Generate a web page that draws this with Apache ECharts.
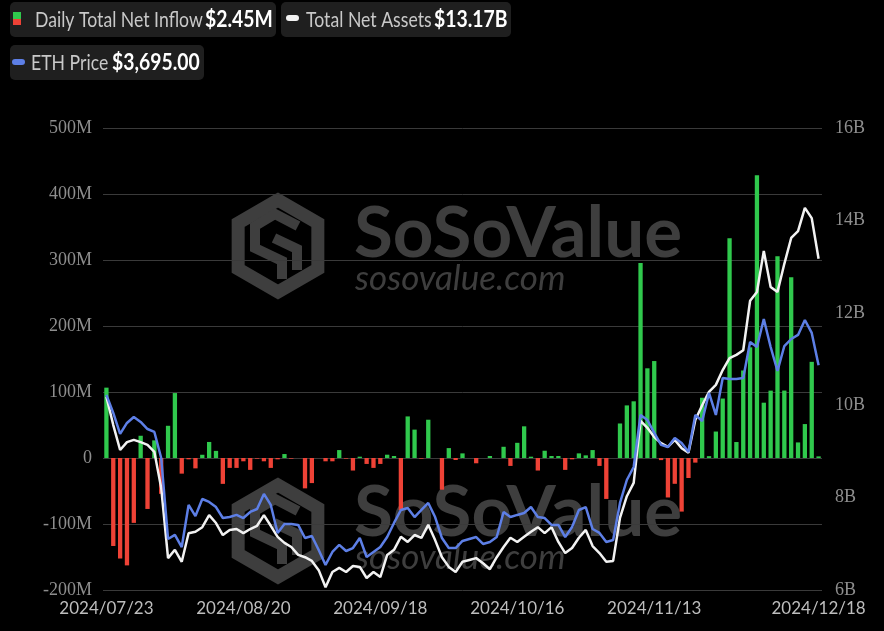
<!DOCTYPE html>
<html>
<head>
<meta charset="utf-8">
<script src="https://cdn.jsdelivr.net/npm/echarts@6/dist/echarts.min.js"></script>
<style>
html,body{margin:0;padding:0;background:#000;}
#chart{width:884px;height:631px;}
</style>
</head>
<body>
<div id="chart"></div>
<script>
// Trading-day categories
const dates = [
'2024/07/23','2024/07/24','2024/07/25','2024/07/26','2024/07/29','2024/07/30','2024/07/31',
'2024/08/01','2024/08/02','2024/08/05','2024/08/06','2024/08/07','2024/08/08','2024/08/09','2024/08/12','2024/08/13','2024/08/14','2024/08/15','2024/08/16','2024/08/19','2024/08/20','2024/08/21','2024/08/22','2024/08/23','2024/08/26','2024/08/27','2024/08/28','2024/08/29','2024/08/30',
'2024/09/03','2024/09/04','2024/09/05','2024/09/06','2024/09/09','2024/09/10','2024/09/11','2024/09/12','2024/09/13','2024/09/16','2024/09/17','2024/09/18','2024/09/19','2024/09/20','2024/09/23','2024/09/24','2024/09/25','2024/09/26','2024/09/27','2024/09/30',
'2024/10/01','2024/10/02','2024/10/03','2024/10/04','2024/10/07','2024/10/08','2024/10/09','2024/10/10','2024/10/11','2024/10/14','2024/10/15','2024/10/16','2024/10/17','2024/10/18','2024/10/21','2024/10/22','2024/10/23','2024/10/24','2024/10/25','2024/10/28','2024/10/29','2024/10/30','2024/10/31',
'2024/11/01','2024/11/04','2024/11/05','2024/11/06','2024/11/07','2024/11/08','2024/11/11','2024/11/12','2024/11/13','2024/11/14','2024/11/15','2024/11/18','2024/11/19','2024/11/20','2024/11/21','2024/11/22','2024/11/25','2024/11/26','2024/11/27','2024/11/29',
'2024/12/02','2024/12/03','2024/12/04','2024/12/05','2024/12/06','2024/12/09','2024/12/10','2024/12/11','2024/12/12','2024/12/13','2024/12/16','2024/12/17','2024/12/18'
];
// Daily total net inflow (million USD)
const netInflow = [
106.6,-133.3,-152.3,-162.7,-98.3,33.7,-77.2,26.7,-54.3,48.8,
98.4,-23.7,-2.0,-15.7,4.9,24.3,10.8,-39.2,-15,-15,
-5,-18,-1,-5,-15,-2,6,-1,0,-46,
-38,0,-5,-5,12,-1,-19,2,-9,-15,
-9,5,3,-79,63,43,-1,58,0,-48,
15,-3,7,0,-8,0,3,0,17,-12,
23,48,2,-19,11,3,3,-18,-2,7,
4,12,-12,-62,0,52.3,79.7,85.9,295.5,135.9,
146.9,-3.2,-59.8,-39.1,-81.2,-30.3,-7,91.3,2.8,40.1,
90.1,332.9,24.2,132.6,167.7,428.4,83.8,102.1,305.7,102.2,
273.7,23.6,51.4,145.7,2.45
];
// Total net assets (billion USD)
const totalNetAssets = [
10.18,9.57,9.03,9.20,9.25,9.20,9.14,8.99,8.21,6.69,
6.87,6.61,7.23,7.26,7.36,7.62,7.45,7.19,7.30,7.32,
7.23,7.32,7.39,7.62,7.39,7.15,7.02,6.93,6.76,6.71,
6.63,6.43,6.06,6.39,6.48,6.39,6.52,6.50,6.26,6.39,
6.28,6.76,6.87,7.15,7.04,7.19,7.13,7.41,7.08,6.71,
6.50,6.39,6.61,6.65,6.69,6.58,6.45,6.71,6.93,7.13,
7.04,7.15,7.26,7.36,7.23,7.36,7.04,6.80,6.91,7.13,
7.30,6.95,6.80,6.61,6.63,7.56,8.03,8.32,9.66,9.51,
9.31,9.18,9.10,9.25,9.07,8.97,9.68,10.00,10.29,10.44,
10.76,11.02,11.09,11.19,12.26,12.45,13.34,12.56,12.45,13.06,
13.62,13.77,14.27,14.05,13.17
];
// ETH price (USD)
const ethPrice = [
3485,3357,3208,3286,3328,3293,3243,3222,3037,2462,
2491,2405,2704,2625,2746,2725,2689,2611,2618,2633,
2611,2654,2675,2782,2704,2505,2569,2569,2562,2469,
2483,2384,2278,2370,2420,2377,2398,2469,2334,2370,
2405,2476,2576,2668,2682,2618,2668,2718,2618,2469,
2398,2398,2448,2462,2476,2427,2441,2476,2654,2618,
2633,2647,2689,2618,2611,2562,2562,2476,2547,2668,
2689,2533,2505,2441,2455,2718,2881,2973,3343,3307,
3215,3130,3115,3179,3144,3080,3343,3300,3499,3343,
3605,3598,3598,3605,3861,3825,4024,3825,3655,3832,
3882,3911,4017,3925,3695
];
const shownDateIdx = [0,20,40,60,80,104];

const GREEN = '#30c94d', RED = '#ee4236', WHITE = '#f2f2f2', BLUE = '#5d7fe6';
const WM = '#3e3e3e';

const lastInflow = netInflow[netInflow.length-1];
const lastTNA = totalNetAssets[totalNetAssets.length-1];
const lastEth = ethPrice[ethPrice.length-1];
const v1 = '$' + lastInflow.toFixed(2) + 'M';
const v2 = '$' + lastTNA.toFixed(2) + 'B';
const v3 = '$' + lastEth.toLocaleString('en-US',{minimumFractionDigits:2, maximumFractionDigits:2});

function wmLogo(cx, cy){
  const r = 46;
  const pts = [];
  for(let k=0;k<6;k++){ const a = Math.PI/2 + k*Math.PI/3; pts.push([cx + r*Math.cos(a), cy - r*Math.sin(a)]); }
  return [
    {type:'polygon', z:0, silent:true, shape:{points:pts}, style:{fill:'none', stroke:WM, lineWidth:13}},
    {type:'polyline', z:0, silent:true, shape:{points:[[cx+20,cy-20],[cx-3,cy-32],[cx-23,cy-20],[cx-23,cy+2],[cx+4,cy+15],[cx+4,cy+33]]}, style:{fill:'none', stroke:WM, lineWidth:10}},
    {type:'polyline', z:0, silent:true, shape:{points:[[cx-4,cy-8],[cx+19,cy+3],[cx+19,cy+24]]}, style:{fill:'none', stroke:WM, lineWidth:10}}
  ];
}

const SXL = 0.84, SXV = 0.88;
const graphics = [].concat(
  wmLogo(278, 246), wmLogo(278, 531),
  [
  {type:'text', z:0, silent:true, x:354, y:234, style:{text:'SoSoValue', font:'bold 71px Lato', fill:WM, textVerticalAlign:'middle'}},
  {type:'text', z:0, silent:true, x:355, y:279, style:{text:'sosovalue.com', font:'italic 35px Lato', fill:WM, textVerticalAlign:'middle'}},
  {type:'text', z:0, silent:true, x:354, y:513, style:{text:'SoSoValue', font:'bold 71px Lato', fill:WM, textVerticalAlign:'middle'}},
  {type:'text', z:0, silent:true, x:355, y:558, style:{text:'sosovalue.com', font:'italic 35px Lato', fill:WM, textVerticalAlign:'middle'}},
  // legend boxes
  {type:'rect', z:20, shape:{x:10,y:2,width:266,height:35,r:5}, style:{fill:'#1f1f1f'}},
  {type:'rect', z:21, shape:{x:13,y:12,width:8,height:7}, style:{fill:GREEN}},
  {type:'rect', z:21, shape:{x:13,y:19,width:8,height:6}, style:{fill:RED}},
  {type:'text', z:21, x:35, y:20, scaleX:SXL, style:{text:'Daily Total Net Inflow', font:'21px Lato', fill:'#c9c9c9', textVerticalAlign:'middle'}},
  {type:'text', z:21, x:205, y:20, scaleX:SXV, style:{text:v1, font:'bold 22px Lato', fill:'#ffffff', textVerticalAlign:'middle'}},

  {type:'rect', z:20, shape:{x:281,y:2,width:230,height:35,r:5}, style:{fill:'#1f1f1f'}},
  {type:'rect', z:21, shape:{x:286,y:15,width:13,height:6,r:3}, style:{fill:WHITE}},
  {type:'text', z:21, x:306, y:20, scaleX:SXL, style:{text:'Total Net Assets', font:'21px Lato', fill:'#c9c9c9', textVerticalAlign:'middle'}},
  {type:'text', z:21, x:434, y:20, scaleX:SXV, style:{text:v2, font:'bold 22px Lato', fill:'#ffffff', textVerticalAlign:'middle'}},

  {type:'rect', z:20, shape:{x:10,y:45,width:194,height:35,r:5}, style:{fill:'#1f1f1f'}},
  {type:'rect', z:21, shape:{x:12,y:59,width:13,height:6,r:3}, style:{fill:BLUE}},
  {type:'text', z:21, x:31, y:63, scaleX:SXL, style:{text:'ETH Price', font:'21px Lato', fill:'#c9c9c9', textVerticalAlign:'middle'}},
  {type:'text', z:21, x:112, y:63, scaleX:SXV, style:{text:v3, font:'bold 22px Lato', fill:'#ffffff', textVerticalAlign:'middle'}}
  ]
);

const chart = echarts.init(document.getElementById('chart'), null, {renderer:'canvas'});
chart.setOption({
  backgroundColor:'#000000',
  animation:false,
  graphic: graphics,
  grid:{left:103, right:62, top:128, bottom:41, containLabel:false},
  xAxis:{
    type:'category', data:dates, boundaryGap:true,
    axisLine:{show:false}, axisTick:{show:false},
    axisLabel:{
      interval:function(i){ return shownDateIdx.indexOf(i) >= 0; },
      color:'#bdbdbd', fontFamily:'Lato', fontSize:17, margin:10
    },
    splitLine:{show:false}
  },
  yAxis:[
    {type:'value', min:-200, max:500, interval:100, position:'left',
     axisLine:{show:false}, axisTick:{show:false},
     axisLabel:{color:'#8e8e8e', fontFamily:'Liberation Serif', fontSize:18, margin:11,
       formatter:function(v){ return v===0 ? '0' : v + 'M'; }},
     splitLine:{show:true, lineStyle:{color:'#3a3a3a', width:1}}},
    {type:'value', min:6, max:16, interval:2, position:'right',
     axisLine:{show:false}, axisTick:{show:false},
     axisLabel:{color:'#8e8e8e', fontFamily:'Liberation Serif', fontSize:18, margin:13,
       formatter:function(v){ return v + 'B'; }},
     splitLine:{show:false}},
    {type:'value', min:2100, max:5380, show:false, splitLine:{show:false}}
  ],
  series:[
    {type:'bar', name:'Daily Total Net Inflow', yAxisIndex:0, data:netInflow, barWidth:4.3,
     itemStyle:{color:function(p){ return p.value >= 0 ? GREEN : RED; }}, z:2},
    {type:'line', name:'Total Net Assets', yAxisIndex:1, data:totalNetAssets, showSymbol:false, symbol:'none',
     lineStyle:{color:WHITE, width:2.5}, itemStyle:{color:WHITE}, z:3},
    {type:'line', name:'ETH Price', yAxisIndex:2, data:ethPrice, showSymbol:false, symbol:'none',
     lineStyle:{color:BLUE, width:2.5}, itemStyle:{color:BLUE}, z:4}
  ]
});
</script>
</body>
</html>
